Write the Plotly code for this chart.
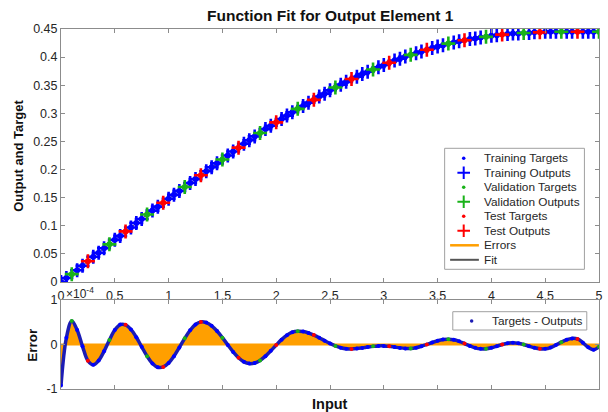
import plotly.graph_objects as go

# ---------------- data ----------------
x_input = [0.00, 0.05, 0.10, 0.15, 0.20, 0.25, 0.30, 0.35, 0.40, 0.45,
           0.50, 0.55, 0.60, 0.65, 0.70, 0.75, 0.80, 0.85, 0.90, 0.95,
           1.00, 1.05, 1.10, 1.15, 1.20, 1.25, 1.30, 1.35, 1.40, 1.45,
           1.50, 1.55, 1.60, 1.65, 1.70, 1.75, 1.80, 1.85, 1.90, 1.95,
           2.00, 2.05, 2.10, 2.15, 2.20, 2.25, 2.30, 2.35, 2.40, 2.45,
           2.50, 2.55, 2.60, 2.65, 2.70, 2.75, 2.80, 2.85, 2.90, 2.95,
           3.00, 3.05, 3.10, 3.15, 3.20, 3.25, 3.30, 3.35, 3.40, 3.45,
           3.50, 3.55, 3.60, 3.65, 3.70, 3.75, 3.80, 3.85, 3.90, 3.95,
           4.00, 4.05, 4.10, 4.15, 4.20, 4.25, 4.30, 4.35, 4.40, 4.45,
           4.50, 4.55, 4.60, 4.65, 4.70, 4.75, 4.80, 4.85, 4.90, 4.95,
           5.00]

target = [0.000, 0.007, 0.014, 0.021, 0.029, 0.037, 0.045, 0.052, 0.060, 0.067,
          0.075, 0.082, 0.090, 0.097, 0.105, 0.112, 0.120, 0.127, 0.134, 0.141,
          0.148, 0.155, 0.162, 0.169, 0.176, 0.183, 0.190, 0.197, 0.204, 0.211,
          0.218, 0.225, 0.232, 0.239, 0.246, 0.252, 0.259, 0.265, 0.272, 0.278,
          0.284, 0.290, 0.296, 0.302, 0.308, 0.313, 0.319, 0.324, 0.330, 0.335,
          0.341, 0.346, 0.351, 0.356, 0.361, 0.365, 0.370, 0.374, 0.378, 0.382,
          0.386, 0.390, 0.394, 0.397, 0.401, 0.404, 0.407, 0.410, 0.413, 0.416,
          0.419, 0.421, 0.424, 0.426, 0.428, 0.430, 0.432, 0.433, 0.435, 0.436,
          0.438, 0.439, 0.440, 0.441, 0.442, 0.442, 0.443, 0.443, 0.444, 0.444,
          0.445, 0.445, 0.445, 0.445, 0.445, 0.445, 0.445, 0.445, 0.445, 0.445,
          0.445]

error = [-0.920, 0.150, 0.530, 0.326, -0.042, -0.366, -0.457, -0.360, -0.153, 0.102,
         0.325, 0.449, 0.442, 0.339, 0.163, -0.052, -0.262, -0.427, -0.512, -0.505,
         -0.417, -0.262, -0.067, 0.138, 0.321, 0.450, 0.508, 0.492, 0.420, 0.303,
         0.154, -0.009, -0.166, -0.298, -0.390, -0.429, -0.415, -0.357, -0.262, -0.142,
         -0.013, 0.109, 0.210, 0.277, 0.300, 0.290, 0.259, 0.211, 0.152, 0.087,
         0.024, -0.032, -0.073, -0.096, -0.099, -0.091, -0.076, -0.058, -0.042, -0.032,
         -0.031, -0.041, -0.058, -0.076, -0.088, -0.089, -0.072, -0.039, 0.002, 0.045,
         0.083, 0.111, 0.120, 0.107, 0.071, 0.021, -0.032, -0.075, -0.098, -0.096,
         -0.074, -0.038, 0.000, 0.029, 0.040, 0.029, 0.001, -0.038, -0.074, -0.096,
         -0.097, -0.068, -0.012, 0.052, 0.108, 0.137, 0.124, 0.042, -0.062, -0.118,
         -0.050]

x_ticks = [0, 0.5, 1, 1.5, 2, 2.5, 3, 3.5, 4, 4.5, 5]
y_ticks_top = [0, 0.05, 0.1, 0.15, 0.2, 0.25, 0.3, 0.35, 0.4, 0.45]
y_ticks_err = [-1, 0, 1]
y_ticktext_err = ["-1", "0", "1"]

legend_labels = ["Training Targets", "Training Outputs", "Validation Targets",
                 "Validation Outputs", "Test Targets", "Test Outputs", "Errors", "Fit"]

# ---------------- styling ----------------
FONT = "Liberation Sans, Arial, Helvetica, sans-serif"
BLUE, GREEN, RED = "#0000ff", "#19b219", "#ff0000"
ORANGE, FITC = "#ff9f00", "#555555"
AX = "#8c8c8c"
TXT = "#262626"

# figure pixel geometry
W, H = 608, 412
L, R, T, B = 61, 5, 29, 23


def px_x(p):
    return (p - L) / (W - L - R)


def px_y(p):
    return (H - B - p) / (H - T - B)


# split into training / validation / test subsets
subset = []
for i in range(len(x_input)):
    if i % 7 == 2:
        subset.append("va")
    elif i % 7 == 5:
        subset.append("te")
    else:
        subset.append("tr")

groups = [("tr", BLUE), ("va", GREEN), ("te", RED)]

fig = go.Figure()

# fit line (under markers)
fig.add_trace(go.Scatter(x=x_input, y=target, mode="lines",
                         line=dict(color=FITC, width=1), xaxis="x", yaxis="y",
                         showlegend=False, hoverinfo="skip"))

for key, col in groups:
    xs = [x for x, s in zip(x_input, subset) if s == key]
    ys = [y for y, s in zip(target, subset) if s == key]
    fig.add_trace(go.Scatter(x=xs, y=ys, mode="markers", xaxis="x", yaxis="y",
                             marker=dict(symbol="cross-thin", size=10, color=col,
                                         line=dict(color=col, width=2.6)),
                             showlegend=False))
    fig.add_trace(go.Scatter(x=xs, y=ys, mode="markers", xaxis="x", yaxis="y",
                             marker=dict(symbol="circle", size=6, color=col),
                             showlegend=False))

# error panel: orange fill to zero
fig.add_trace(go.Scatter(x=x_input, y=error, mode="lines", xaxis="x2", yaxis="y2",
                         line=dict(color=ORANGE, width=1, shape="spline"),
                         fill="tozeroy", fillcolor=ORANGE, showlegend=False,
                         hoverinfo="skip"))
fig.add_trace(go.Scatter(x=[0, 5], y=[0, 0], mode="lines", xaxis="x2", yaxis="y2",
                         line=dict(color=ORANGE, width=2), showlegend=False,
                         hoverinfo="skip"))
fig.add_trace(go.Scatter(x=x_input, y=error, mode="lines", xaxis="x2", yaxis="y2",
                         line=dict(color="#1c1cb4", width=3.5, shape="spline"),
                         showlegend=False))
for key, col in groups:
    xs = [x for x, s in zip(x_input, subset) if s == key]
    ys = [y for y, s in zip(error, subset) if s == key]
    fig.add_trace(go.Scatter(x=xs, y=ys, mode="markers", xaxis="x2", yaxis="y2",
                             marker=dict(symbol="circle", size=4, color=col),
                             showlegend=False))

# ---------------- manual legends on a pixel overlay axis ----------------
leg_syms = [("dot", BLUE), ("cross", BLUE), ("dot", GREEN), ("cross", GREEN),
            ("dot", RED), ("cross", RED), ("line", ORANGE), ("line", FITC)]
row0, drow = 158.3, 14.5
sym_x = 466.7
annotations = []
for i, (lab, (kind, col)) in enumerate(zip(legend_labels, leg_syms)):
    yy = row0 + drow * i
    if kind == "dot":
        fig.add_trace(go.Scatter(x=[sym_x], y=[yy], mode="markers", xaxis="x3", yaxis="y3",
                                 marker=dict(symbol="circle", size=3.5, color=col),
                                 showlegend=False, hoverinfo="skip"))
    elif kind == "cross":
        fig.add_trace(go.Scatter(x=[sym_x], y=[yy], mode="markers", xaxis="x3", yaxis="y3",
                                 marker=dict(symbol="cross-thin", size=9, color=col,
                                             line=dict(color=col, width=2)),
                                 showlegend=False, hoverinfo="skip"))
    else:
        fig.add_trace(go.Scatter(x=[453, 482], y=[yy, yy], mode="lines", xaxis="x3", yaxis="y3",
                                 line=dict(color=col, width=2.5 if col == ORANGE else 2),
                                 showlegend=False, hoverinfo="skip"))
    annotations.append(dict(x=px_x(485), y=px_y(yy), xref="paper", yref="paper",
                            text=lab, showarrow=False, xanchor="left", yanchor="middle",
                            font=dict(family=FONT, size=11.8, color=TXT)))

# second legend (error panel)
fig.add_trace(go.Scatter(x=[474.7], y=[321], mode="markers", xaxis="x3", yaxis="y3",
                         marker=dict(symbol="circle", size=3.5, color="#1c1cb4"),
                         showlegend=False, hoverinfo="skip"))
annotations.append(dict(x=px_x(493), y=px_y(321), xref="paper", yref="paper",
                        text="Targets - Outputs", showarrow=False, xanchor="left",
                        yanchor="middle", font=dict(family=FONT, size=11.8, color=TXT)))

shapes = [
    dict(type="rect", xref="paper", yref="paper", x0=px_x(447.5), x1=px_x(588.3),
         y0=px_y(269.3), y1=px_y(148.3), line=dict(color="#a0a0a0", width=1),
         fillcolor="rgba(0,0,0,0)", layer="above"),
    dict(type="rect", xref="paper", yref="paper", x0=px_x(455.7), x1=px_x(590.7),
         y0=px_y(330), y1=px_y(311.7), line=dict(color="#a0a0a0", width=1),
         fillcolor="rgba(0,0,0,0)", layer="above"),
]

# titles and labels
annotations += [
    dict(x=px_x(332), y=px_y(16), xref="paper", yref="paper",
         text="<b>Function Fit for Output Element 1</b>", showarrow=False,
         xanchor="center", yanchor="middle", font=dict(family=FONT, size=15.5, color="#111")),
    dict(x=px_x(17.5), y=px_y(156), xref="paper", yref="paper",
         text="<b>Output and Target</b>", showarrow=False, textangle=-90,
         xanchor="center", yanchor="middle", font=dict(family=FONT, size=13, color="#111")),
    dict(x=px_x(31.5), y=px_y(345), xref="paper", yref="paper",
         text="<b>Error</b>", showarrow=False, textangle=-90,
         xanchor="center", yanchor="middle", font=dict(family=FONT, size=13.5, color="#111")),
    dict(x=px_x(332), y=px_y(404), xref="paper", yref="paper",
         text="<b>Input</b>", showarrow=False,
         xanchor="center", yanchor="middle", font=dict(family=FONT, size=14.5, color="#111")),
    dict(x=px_x(64), y=px_y(293), xref="paper", yref="paper",
         text="×10<sup>-4</sup>", showarrow=False,
         xanchor="left", yanchor="middle", font=dict(family=FONT, size=12, color=TXT)),
]

axis_common = dict(showline=True, linecolor=AX, linewidth=1, mirror="ticks",
                   ticks="inside", ticklen=4, tickcolor=AX, showgrid=False,
                   zeroline=False, tickfont=dict(family=FONT, size=12.5, color=TXT))

fig.update_layout(
    width=W, height=H,
    margin=dict(l=L, r=R, t=T, b=B, pad=0),
    paper_bgcolor="white", plot_bgcolor="rgba(0,0,0,0)",
    showlegend=False,
    xaxis=dict(domain=[0, 1], anchor="y", range=[0, 5], tickvals=x_ticks,
               showticklabels=True, ticklabelstandoff=2, **axis_common),
    yaxis=dict(domain=[px_y(282), 1], anchor="x", range=[0, 0.45],
               tickvals=y_ticks_top, **axis_common),
    xaxis2=dict(domain=[0, 1], anchor="y2", range=[0, 5], tickvals=x_ticks,
                showticklabels=False, **axis_common),
    yaxis2=dict(domain=[0, px_y(300)], anchor="x2", range=[-1, 1],
                tickvals=y_ticks_err, ticktext=y_ticktext_err, **axis_common),
    xaxis3=dict(domain=[0, 1], anchor="y3", range=[L, W - R], visible=False),
    yaxis3=dict(domain=[0, 1], anchor="x3", range=[H - B, T], visible=False),
    annotations=annotations,
    shapes=shapes,
)

fig.write_html("out.html")
